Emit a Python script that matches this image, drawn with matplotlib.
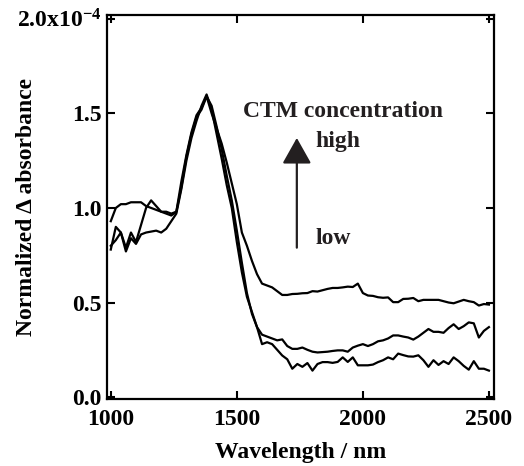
import numpy as np
import matplotlib
matplotlib.use('Agg')
import matplotlib.pyplot as plt

plt.rcParams['font.family'] = 'Liberation Serif'
plt.rcParams['font.weight'] = 'bold'
plt.rcParams['mathtext.fontset'] = 'custom'
plt.rcParams['mathtext.rm'] = 'Liberation Serif:bold'
plt.rcParams['mathtext.default'] = 'rm'

# wavelength grid (nm), values in units of 1e-4
wavelength = np.arange(1000, 2501, 20)

high = [0.93, 1.00, 1.02, 1.02, 1.03, 1.03, 1.03, 1.01, 1.00, 0.99,
        0.98, 0.97, 0.96, 0.98, 1.14, 1.28, 1.40, 1.49, 1.53, 1.59,
        1.50, 1.42, 1.34, 1.24, 1.13, 1.02, 0.87, 0.80, 0.72, 0.65,
        0.60, 0.59, 0.58, 0.56, 0.54, 0.54, 0.545, 0.546, 0.549, 0.55,
        0.56, 0.558, 0.565, 0.572, 0.577, 0.577, 0.58, 0.584, 0.582, 0.60,
        0.55, 0.537, 0.535, 0.528, 0.525, 0.527, 0.502, 0.502, 0.519, 0.52,
        0.524, 0.507, 0.514, 0.514, 0.514, 0.514, 0.507, 0.50, 0.496, 0.505,
        0.514, 0.507, 0.502, 0.484, 0.492, 0.489]

mid = [0.78, 0.90, 0.87, 0.79, 0.87, 0.82, 0.91, 1.00, 1.04, 1.01,
       0.98, 0.98, 0.97, 0.98, 1.11, 1.27, 1.39, 1.48, 1.52, 1.59,
       1.54, 1.43, 1.31, 1.17, 1.04, 0.88, 0.71, 0.55, 0.44, 0.37,
       0.33, 0.32, 0.31, 0.30, 0.305, 0.27, 0.255, 0.255, 0.262, 0.25,
       0.24, 0.236, 0.238, 0.24, 0.244, 0.247, 0.247, 0.24, 0.262, 0.272,
       0.28, 0.27, 0.28, 0.295, 0.30, 0.31, 0.326, 0.326, 0.32, 0.315,
       0.304, 0.32, 0.34, 0.36, 0.345, 0.345, 0.34, 0.365, 0.385, 0.36,
       0.375, 0.395, 0.39, 0.315, 0.35, 0.37]

low = [0.80, 0.83, 0.87, 0.77, 0.84, 0.81, 0.86, 0.87, 0.875, 0.88,
       0.87, 0.89, 0.93, 0.97, 1.10, 1.25, 1.37, 1.46, 1.54, 1.60,
       1.52, 1.39, 1.26, 1.12, 1.00, 0.82, 0.66, 0.53, 0.45, 0.37,
       0.28, 0.29, 0.28, 0.25, 0.22, 0.20, 0.15, 0.175, 0.16, 0.18,
       0.14, 0.175, 0.185, 0.185, 0.181, 0.186, 0.21, 0.186, 0.21, 0.168,
       0.168, 0.168, 0.172, 0.185, 0.195, 0.21, 0.20, 0.23, 0.222, 0.215,
       0.214, 0.221, 0.195, 0.16, 0.195, 0.17, 0.19, 0.175, 0.21, 0.19,
       0.165, 0.145, 0.19, 0.15, 0.15, 0.14]

ytick_vals = [0.0, 0.5, 1.0, 1.5, 2.0]
ytick_labels = ['0.0', '0.5', '1.0', '1.5', '2.0x10$^{-4}$']
xtick_vals = [1000, 1500, 2000, 2500]

fig = plt.figure(figsize=(5.24, 4.66), dpi=100)
ax = fig.add_axes([0.2042, 0.1438, 0.7385, 0.824])

for s in [high, mid, low]:
    ax.plot(wavelength, s, color='black', lw=1.6)

ax.set_xlim(985, 2520)
ax.set_ylim(-0.01, 2.02)
ax.set_xticks(xtick_vals)
ax.set_yticks(ytick_vals)
ax.set_yticklabels(ytick_labels)
ax.tick_params(direction='in', length=6, width=1.5, top=True, right=True,
               labelsize=17, pad=4)
ax.tick_params(axis='x', pad=7)
for sp in ax.spines.values():
    sp.set_linewidth(1.6)

ax.set_xlabel('Wavelength / nm', fontsize=17, fontweight='bold')
ax.set_ylabel('Normalized \u0394 absorbance', fontsize=17, fontweight='bold')
ax.yaxis.set_label_coords(-0.181, 0.5)
ax.xaxis.set_label_coords(0.5, -0.112)

tc = '#231f20'
ax.text(1524, 1.51, 'CTM concentration', fontsize=17, fontweight='bold',
        color=tc, ha='left', va='center')
ax.text(1813, 1.35, 'high', fontsize=17, fontweight='bold', color=tc,
        ha='left', va='center')
ax.text(1813, 0.84, 'low', fontsize=17, fontweight='bold', color=tc,
        ha='left', va='center')
ax.annotate('', xy=(1738, 1.37), xytext=(1738, 0.79),
            arrowprops=dict(arrowstyle='-|>,head_length=0.8,head_width=0.45',
                            mutation_scale=20, lw=1.6, color=tc,
                            shrinkA=0, shrinkB=0))

fig.savefig('out.png', dpi=100)
